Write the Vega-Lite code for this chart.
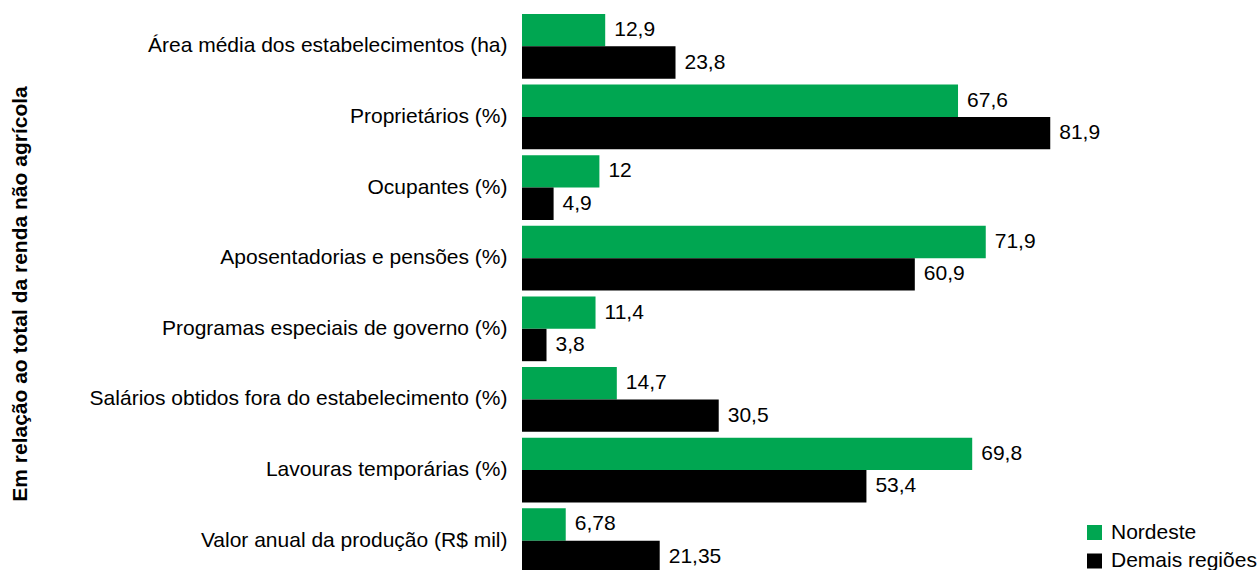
{
  "$schema": "https://vega.github.io/schema/vega-lite/v6.json",
  "width": 645,
  "height": 559,
  "autosize": {"type": "none"},
  "padding": {"left": 522, "top": 11, "right": 91, "bottom": 0},
  "background": "white",
  "config": {
    "locale": {"number": {"decimal": ",", "thousands": ".", "grouping": [3], "currency": ["R$ ", ""]}},
    "view": {"stroke": null},
    "font": "Liberation Sans"
  },
  "data": {
    "values": [
      {"categoria": "Área média dos estabelecimentos (ha)", "serie": "Nordeste", "valor": 12.9},
      {"categoria": "Área média dos estabelecimentos (ha)", "serie": "Demais regiões", "valor": 23.8},
      {"categoria": "Proprietários (%)", "serie": "Nordeste", "valor": 67.6},
      {"categoria": "Proprietários (%)", "serie": "Demais regiões", "valor": 81.9},
      {"categoria": "Ocupantes (%)", "serie": "Nordeste", "valor": 12},
      {"categoria": "Ocupantes (%)", "serie": "Demais regiões", "valor": 4.9},
      {"categoria": "Aposentadorias e pensões (%)", "serie": "Nordeste", "valor": 71.9},
      {"categoria": "Aposentadorias e pensões (%)", "serie": "Demais regiões", "valor": 60.9},
      {"categoria": "Programas especiais de governo (%)", "serie": "Nordeste", "valor": 11.4},
      {"categoria": "Programas especiais de governo (%)", "serie": "Demais regiões", "valor": 3.8},
      {"categoria": "Salários obtidos fora do estabelecimento (%)", "serie": "Nordeste", "valor": 14.7},
      {"categoria": "Salários obtidos fora do estabelecimento (%)", "serie": "Demais regiões", "valor": 30.5},
      {"categoria": "Lavouras temporárias (%)", "serie": "Nordeste", "valor": 69.8},
      {"categoria": "Lavouras temporárias (%)", "serie": "Demais regiões", "valor": 53.4},
      {"categoria": "Valor anual da produção (R$ mil)", "serie": "Nordeste", "valor": 6.78},
      {"categoria": "Valor anual da produção (R$ mil)", "serie": "Demais regiões", "valor": 21.35}
    ]
  },
  "encoding": {
    "y": {
      "field": "categoria",
      "type": "nominal",
      "sort": null,
      "scale": {"range": [0, 565], "paddingInner": 0.083, "paddingOuter": 0.0415},
      "axis": {
        "title": "Em relação ao total da renda não agrícola",
        "titleFontSize": 21,
        "titleFontWeight": "bold",
        "titleColor": "black",
        "titleFont": "Liberation Sans",
        "titleX": -496,
        "titleBaseline": "alphabetic",
        "titleAngle": 270,
        "labelFontSize": 21,
        "labelFont": "Liberation Sans",
        "labelColor": "black",
        "labelPadding": 15,
        "ticks": false,
        "tickSize": 0,
        "domain": false,
        "grid": false,
        "labelLimit": 0
      }
    },
    "yOffset": {
      "field": "serie",
      "type": "nominal",
      "sort": ["Nordeste", "Demais regiões"],
      "scale": {"paddingInner": 0, "paddingOuter": 0}
    },
    "x": {
      "field": "valor",
      "type": "quantitative",
      "scale": {"domain": [0, 100]},
      "axis": null
    }
  },
  "layer": [
    {
      "mark": {"type": "bar"},
      "encoding": {
        "color": {
          "field": "serie",
          "type": "nominal",
          "sort": ["Nordeste", "Demais regiões"],
          "scale": {"domain": ["Nordeste", "Demais regiões"], "range": ["#00A651", "#000000"]},
          "legend": {
            "title": null,
            "orient": "none",
            "legendX": 562,
            "legendY": 511,
            "symbolType": "square",
            "symbolSize": 225,
            "symbolStrokeWidth": 0,
            "labelFontSize": 21,
            "labelFont": "Liberation Sans",
            "labelColor": "black",
            "labelOffset": 6,
            "rowPadding": 6.5,
            "padding": 0,
            "labelLimit": 0
          }
        }
      }
    },
    {
      "mark": {"type": "text", "align": "left", "baseline": "middle", "dx": 9, "fontSize": 21, "font": "Liberation Sans", "color": "black"},
      "encoding": {
        "text": {"field": "valor", "type": "quantitative", "format": "~g"}
      }
    }
  ]
}
